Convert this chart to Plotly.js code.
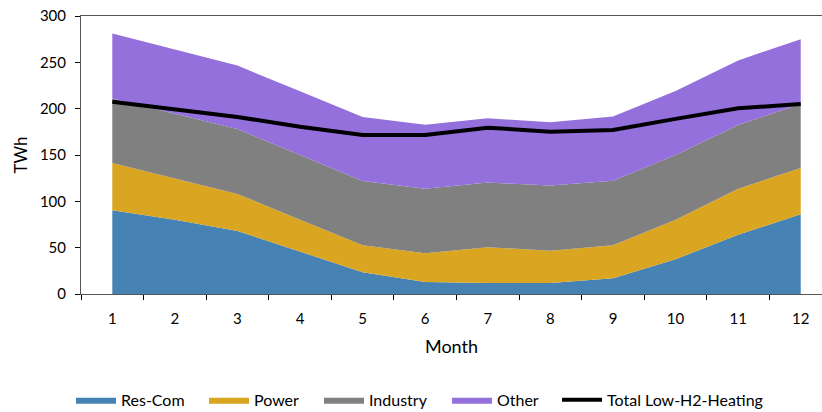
<!DOCTYPE html>
<html>
<head>
<meta charset="utf-8">
<script src="https://cdn.plot.ly/plotly-3.0.1.min.js"></script>
<style>html,body{margin:0;padding:0;background:#fff;}#chart{width:822px;height:412px;}</style>
</head>
<body>
<div id="chart"></div>
<script>
const months = ['1','2','3','4','5','6','7','8','9','10','11','12'];
const resCom = [90.5, 80, 68, 46, 23.5, 13, 12, 12, 17, 37.5, 64, 86];
const power = [51, 44.5, 40, 34, 29, 31, 38.5, 34.7, 35.5, 42.5, 49.5, 50];
const industry = [69.5, 70, 70, 70, 69.5, 69.7, 69.7, 70.3, 69.6, 70, 69, 69];
const other = [70, 69, 68.5, 68.7, 69, 69, 69.4, 68.3, 69.4, 69, 69.6, 70];
const totalLowH2 = [207.5, 199, 191, 180.5, 171.7, 171.7, 179.5, 175.2, 177, 189, 200.4, 205];

const area = (name, y, color, leg) => ({
  x: months, y: y, name: name, type: 'scatter', mode: 'lines', legend: leg,
  stackgroup: 'one', line: {width: 0, color: color}, fillcolor: color
});

const data = [
  area('Res-Com', resCom, '#4682B4', 'legend'),
  area('Power', power, '#DAA520', 'legend2'),
  area('Industry', industry, '#808080', 'legend3'),
  area('Other', other, '#9370DB', 'legend4'),
  {x: months, y: totalLowH2, name: 'Total Low-H2-Heating', type: 'scatter', mode: 'lines',
   legend: 'legend5', line: {color: '#000000', width: 4}}
];

const fam = 'Lato, "Open Sans", sans-serif';
const leg = (x) => ({orientation: 'h', x: x, xanchor: 'left', y: -0.381, yanchor: 'middle',
  font: {family: fam, size: 16, color: '#000'}, itemwidth: 40, bgcolor: 'rgba(0,0,0,0)'});

const layout = {
  width: 822, height: 412,
  margin: {l: 81, r: 0, t: 16, b: 118, autoexpand: false},
  paper_bgcolor: '#fff', plot_bgcolor: '#fff',
  font: {family: fam, size: 15, color: '#000'},
  showlegend: true,
  legend: leg(-0.0135),
  legend2: leg(0.1660),
  legend3: leg(0.3212),
  legend4: leg(0.4939),
  legend5: leg(0.6424),
  xaxis: {type: 'category', range: [-0.5, 11.34], tickson: 'boundaries', ticks: 'outside',
          ticklen: 5, tickcolor: '#000', showline: true, linecolor: '#555', linewidth: 1, mirror: true,
          showgrid: false, zeroline: false, fixedrange: true, ticklabelstandoff: 11,
          title: {text: 'Month', font: {family: fam, size: 18, color: '#000'}, standoff: 14},
          tickfont: {family: fam, size: 15, color: '#000'}},
  yaxis: {range: [0, 300], dtick: 50, ticks: 'outside', ticklen: 5, tickcolor: '#000',
          showline: true, linecolor: '#555', linewidth: 1, showgrid: false, zeroline: false,
          ticklabelstandoff: 6,
          title: {text: 'TWh', font: {family: fam, size: 17, color: '#000'}, standoff: 7},
          tickfont: {family: fam, size: 15, color: '#000'}}
};

Plotly.newPlot('chart', data, layout, {displayModeBar: false, staticPlot: true});
</script>
</body>
</html>
